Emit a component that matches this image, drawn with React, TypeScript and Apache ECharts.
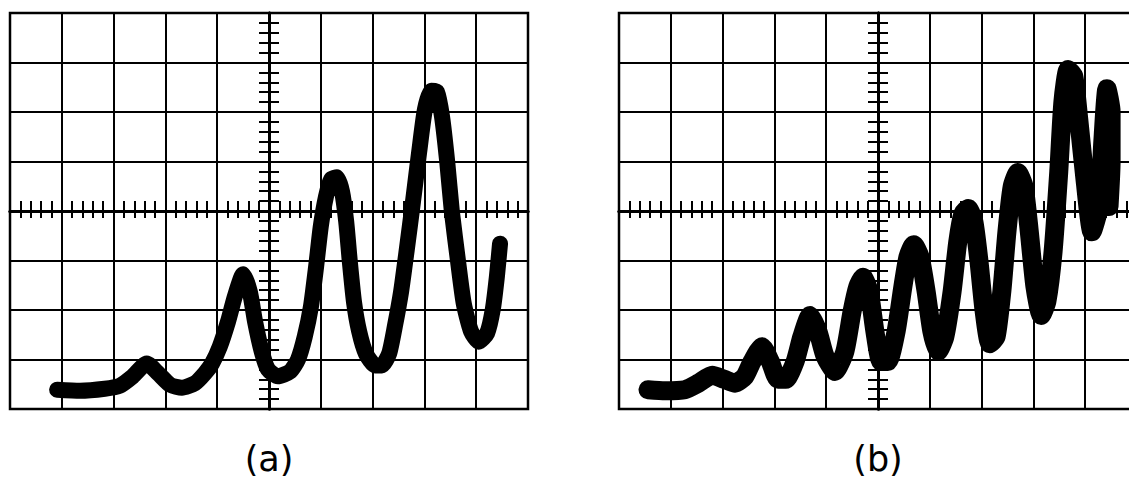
import React, { useEffect, useRef } from "react";
import * as echarts from "echarts";

// Screen divisions: x from -5 to 5, y from -4 to 4 (centre graticule at 0,0)
const xRange = [-5, 5];
const yRange = [-4, 4];
const panelLabels = ["(a)", "(b)"];

// Trace (a), in divisions
const traceAX = [-4.09, -3.65, -3.17, -2.88, -2.63, -2.36, -2.14, -1.91, -1.68, -1.43, -1.24, -1.1, -0.95, -0.79, -0.66, -0.5, -0.37, -0.27, -0.14, -0.02, 0.17, 0.41, 0.56, 0.69, 0.81, 0.91, 1.0, 1.1, 1.2, 1.31, 1.41, 1.49, 1.56, 1.64, 1.74, 1.87, 2.05, 2.18, 2.32, 2.43, 2.55, 2.66, 2.78, 2.9, 3.01, 3.13, 3.24, 3.34, 3.44, 3.53, 3.65, 3.76, 3.9, 4.05, 4.21, 4.32, 4.4, 4.46];
const traceAY = [-3.61, -3.63, -3.59, -3.53, -3.34, -3.08, -3.28, -3.51, -3.57, -3.48, -3.28, -3.08, -2.74, -2.23, -1.73, -1.28, -1.63, -2.23, -2.84, -3.2, -3.34, -3.24, -3.0, -2.54, -1.93, -1.12, -0.31, 0.29, 0.64, 0.68, 0.39, -0.21, -1.02, -1.83, -2.43, -2.88, -3.12, -3.12, -2.88, -2.33, -1.63, -0.78, 0.19, 1.2, 2.05, 2.43, 2.41, 1.91, 1.0, -0.01, -1.02, -1.87, -2.43, -2.64, -2.47, -1.99, -1.32, -0.66];

// Trace (b), in divisions
const traceBX = [-4.44, -4.11, -3.73, -3.47, -3.2, -2.97, -2.76, -2.57, -2.43, -2.24, -2.08, -1.93, -1.78, -1.6, -1.47, -1.31, -1.16, -1.02, -0.83, -0.64, -0.5, -0.39, -0.29, -0.17, -0.06, 0.06, 0.19, 0.35, 0.48, 0.58, 0.69, 0.81, 0.93, 1.04, 1.16, 1.29, 1.43, 1.54, 1.64, 1.74, 1.85, 1.95, 2.05, 2.16, 2.28, 2.39, 2.49, 2.59, 2.7, 2.82, 2.92, 3.03, 3.15, 3.26, 3.38, 3.49, 3.57, 3.67, 3.78, 3.88, 4.0, 4.13, 4.27, 4.34, 4.42, 4.5, 4.5, 4.46];
const traceBY = [-3.61, -3.63, -3.61, -3.48, -3.32, -3.4, -3.48, -3.34, -3.04, -2.74, -3.04, -3.4, -3.4, -3.04, -2.54, -2.11, -2.43, -2.94, -3.24, -2.84, -2.03, -1.53, -1.34, -1.63, -2.43, -3.04, -3.04, -2.43, -1.53, -0.92, -0.68, -0.92, -1.63, -2.43, -2.84, -2.54, -1.63, -0.62, -0.05, 0.05, -0.21, -1.02, -2.03, -2.68, -2.54, -1.63, -0.41, 0.49, 0.78, 0.49, -0.41, -1.53, -2.11, -1.83, -0.82, 0.8, 2.21, 2.86, 2.72, 1.81, 0.6, -0.42, 0.09, 1.4, 2.47, 2.01, 1.0, 0.09];

const zip = (xs: number[], ys: number[]) => xs.map((x, i) => [x, ys[i]]);

const PANEL_LEFT = [10, 619];
const PANEL_TOP = 13;
const PANEL_W = 518;
const PANEL_H = 396;
const INK = "#000";

export default function App() {
  const ref = useRef<HTMLDivElement>(null);

  useEffect(() => {
    if (!ref.current) return;
    const chart = echarts.init(ref.current, undefined, { renderer: "svg" });

    const grids = PANEL_LEFT.map((left) => ({
      left,
      top: PANEL_TOP,
      width: PANEL_W,
      height: PANEL_H,
      show: true,
      borderColor: INK,
      borderWidth: 2.5,
      backgroundColor: "transparent",
      containLabel: false,
      outerBoundsMode: "none",
    }));

    const xAxes: any[] = [];
    const yAxes: any[] = [];
    PANEL_LEFT.forEach((_, g) => {
      const baseX = {
        gridIndex: g,
        type: "value",
        min: xRange[0],
        max: xRange[1],
        interval: 1,
        axisLabel: { show: false },
        axisTick: { show: false },
      };
      xAxes.push({
        ...baseX,
        position: "bottom",
        axisLine: { show: true, onZero: true, lineStyle: { color: INK, width: 3 } },
        minorTick: { show: true, splitNumber: 5, length: 7, lineStyle: { color: INK, width: 2 } },
        splitLine: { show: true, lineStyle: { color: INK, width: 2 } },
      });
      xAxes.push({
        ...baseX,
        position: "top",
        axisLine: { show: true, onZero: true, lineStyle: { color: INK, width: 3 } },
        minorTick: { show: true, splitNumber: 5, length: 10, lineStyle: { color: INK, width: 2 } },
        splitLine: { show: false },
      });
      const baseY = {
        gridIndex: g,
        type: "value",
        min: yRange[0],
        max: yRange[1],
        interval: 1,
        axisLabel: { show: false },
        axisTick: { show: false },
      };
      yAxes.push({
        ...baseY,
        position: "left",
        axisLine: { show: true, onZero: true, lineStyle: { color: INK, width: 3 } },
        minorTick: { show: true, splitNumber: 5, length: 10, lineStyle: { color: INK, width: 2 } },
        splitLine: { show: true, lineStyle: { color: INK, width: 2 } },
      });
      yAxes.push({
        ...baseY,
        position: "right",
        axisLine: { show: true, onZero: true, lineStyle: { color: INK, width: 3 } },
        minorTick: { show: true, splitNumber: 5, length: 10, lineStyle: { color: INK, width: 2 } },
        splitLine: { show: false },
      });
    });

    const traces = [zip(traceAX, traceAY), zip(traceBX, traceBY)];
    const widths = [16, 19];

    chart.setOption({
      animation: false,
      backgroundColor: "#fff",
      grid: grids,
      xAxis: xAxes,
      yAxis: yAxes,
      series: traces.map((data, g) => ({
        type: "line",
        xAxisIndex: g * 2,
        yAxisIndex: g * 2,
        data,
        showSymbol: false,
        symbol: "none",
        smooth: 0.2,
        lineStyle: { color: INK, width: widths[g], cap: "round", join: "round" },
        z: 5,
      })),
      graphic: panelLabels.map((text, g) => ({
        type: "text",
        x: PANEL_LEFT[g] + PANEL_W / 2,
        y: 459,
        style: {
          text,
          fill: INK,
          font: "35px 'DejaVu Sans', sans-serif",
          textAlign: "center",
          textVerticalAlign: "middle",
        },
      })),
    });

    return () => chart.dispose();
  }, []);

  return (
    <div
      ref={ref}
      style={{ position: "fixed", left: 0, top: 0, width: 1129, height: 483 }}
    />
  );
}
